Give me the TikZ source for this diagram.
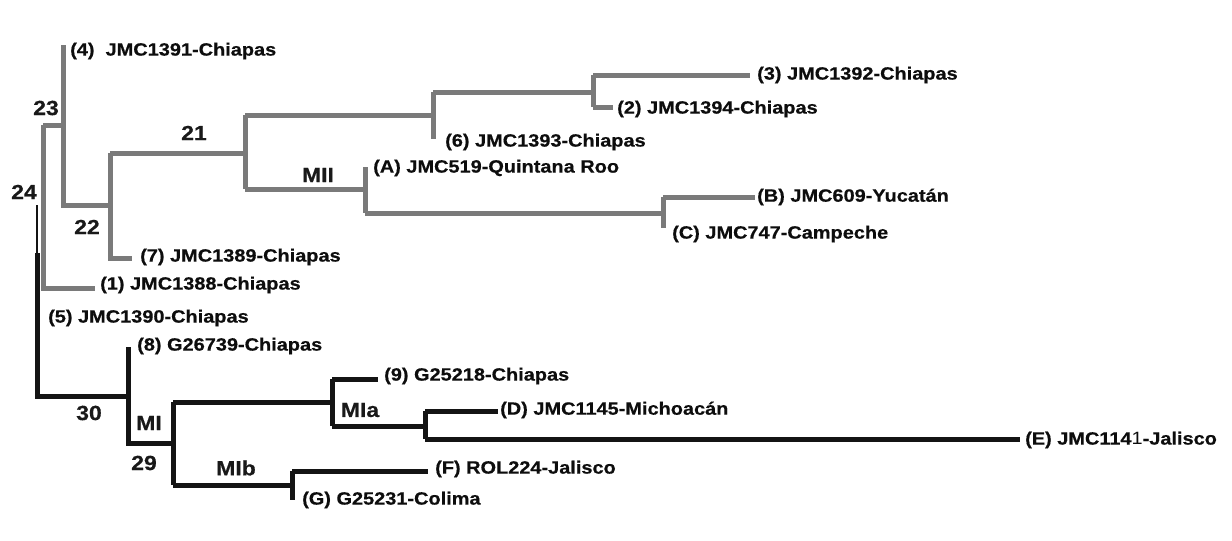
\documentclass[tikz,border=0pt]{standalone}
\usepackage{fontspec}
\newfontfamily\lab[FakeStretch=1.12,BoldFeatures={FakeBold=0.5}]{Liberation Sans}
\begin{document}
\begin{tikzpicture}[x=1pt,y=-1pt,
  gbr/.style={draw=black!52,line width=5pt,line join=miter},
  kbr/.style={draw=black!92,line width=5pt,line join=miter},
  leaf/.style={anchor=west,inner sep=0pt,font=\lab\fontsize{17.8}{19}\selectfont\bfseries,text=black!95},
  num/.style={inner sep=0pt,font=\lab\fontsize{20.5}{22}\selectfont\bfseries,text=black!90}]
\useasboundingbox (0,0) rectangle (1232,541);
% coordinates (gray clade)
\coordinate (n23t) at (63,45);
\coordinate (n23b) at (63,205);
\coordinate (n23m) at (63,125);
\coordinate (n24g) at (43,125);
\coordinate (l1e) at (95,288);
\coordinate (n24gb) at (43,288);
\coordinate (n22b) at (110,205);
\coordinate (n22t) at (110,153);
\coordinate (n22d) at (110,258);
\coordinate (l7e) at (132,258);
\coordinate (n21m) at (245,153);
\coordinate (n21t) at (245,115);
\coordinate (n21b) at (245,189);
\coordinate (n6t) at (433,115);
\coordinate (n6u) at (433,92);
\coordinate (n6d) at (433,139);
\coordinate (n3m) at (593,92);
\coordinate (n3u) at (593,75);
\coordinate (n3d) at (593,107);
\coordinate (l3e) at (750,75);
\coordinate (l2e) at (613,107);
\coordinate (nAm) at (365,189);
\coordinate (nAu) at (365,167);
\coordinate (nAd) at (365,213);
\coordinate (nBm) at (663,213);
\coordinate (nBu) at (663,197);
\coordinate (nBd) at (663,228);
\coordinate (lBe) at (755,197);
% coordinates (black clade)
\coordinate (n24t) at (37,205);
\coordinate (n24k) at (37,253);
\coordinate (n24b) at (37,396);
\coordinate (n30m) at (128,396);
\coordinate (n30t) at (128,347);
\coordinate (n30b) at (128,443);
\coordinate (n29m) at (173,443);
\coordinate (n29t) at (173,402);
\coordinate (n29b) at (173,485);
\coordinate (nMat) at (332,402);
\coordinate (nMau) at (332,379);
\coordinate (nMad) at (332,426);
\coordinate (l9e) at (378,379);
\coordinate (nDm) at (425,426);
\coordinate (nDu) at (425,411);
\coordinate (nDd) at (425,439);
\coordinate (lDe) at (498,411);
\coordinate (lEe) at (1020,439);
\coordinate (nFm) at (292,485);
\coordinate (nFu) at (292,471);
\coordinate (nFd) at (292,500);
\coordinate (lFe) at (428,471);
% black branches
\draw[draw=black!92,line width=2pt] (n24t) -- (n24k);
\draw[kbr] (n24k) -- (n24b) -- (n30m);
\draw[kbr] (n30t) -- (n30b) -- (n29m);
\draw[kbr] (n29t) -- (n29b);
\draw[kbr] (n29t) -- (nMat);
\draw[kbr] (nMau) -- (nMad);
\draw[kbr] (nMau) -- (l9e);
\draw[kbr] (nMad) -- (nDm);
\draw[kbr] (nDu) -- (nDd);
\draw[kbr] (nDu) -- (lDe);
\draw[kbr] (nDd) -- (lEe);
\draw[kbr] (n29b) -- (nFm);
\draw[kbr] (nFu) -- (nFd);
\draw[kbr] (nFu) -- (lFe);
% gray branches
\draw[gbr] (n23t) -- (n23b) -- (n22b);
\draw[gbr] (n24g) -- (n23m);
\draw[gbr] (n24g) -- (n24gb) -- (l1e);
\draw[gbr] (n22t) -- (n22d) -- (l7e);
\draw[gbr] (n22t) -- (n21m);
\draw[gbr] (n21t) -- (n21b);
\draw[gbr] (n21t) -- (n6t);
\draw[gbr] (n6u) -- (n6d);
\draw[gbr] (n6u) -- (n3m);
\draw[gbr] (n3u) -- (n3d);
\draw[gbr] (n3u) -- (l3e);
\draw[gbr] (n3d) -- (l2e);
\draw[gbr] (n21b) -- (nAm);
\draw[gbr] (nAu) -- (nAd);
\draw[gbr] (nAd) -- (nBm);
\draw[gbr] (nBu) -- (nBd);
\draw[gbr] (nBu) -- (lBe);
% leaf labels
\node[leaf] (t4) at (70,51) {(4)\ \ JMC1391-Chiapas};
\node[leaf] (t3) at (757,75) {(3) JMC1392-Chiapas};
\node[leaf] (t2) at (617,109) {(2) JMC1394-Chiapas};
\node[leaf] (t6) at (445,142) {(6) JMC1393-Chiapas};
\node[leaf] (tA) at (373,168) {(A) JMC519-Quintana Roo};
\node[leaf] (tB) at (757,197) {(B) JMC609-Yucatán};
\node[leaf] (tC) at (672,234) {(C) JMC747-Campeche};
\node[leaf] (t7) at (140,257) {(7) JMC1389-Chiapas};
\node[leaf] (t1) at (100,285) {(1) JMC1388-Chiapas};
\node[leaf] (t5) at (48,318) {(5) JMC1390-Chiapas};
\node[leaf] (t8) at (137,346) {(8) G26739-Chiapas};
\node[leaf] (t9) at (384,376) {(9) G25218-Chiapas};
\node[leaf] (tD) at (500,410) {(D) JMC1145-Michoacán};
\node[leaf] (tE) at (1025,440) {(E) JMC114\mdseries 1\bfseries -Jalisco};
\node[leaf] (tF) at (435,469) {(F) ROL224-Jalisco};
\node[leaf] (tG) at (302,500) {(G) G25231-Colima};
% internal labels
\node[num] (b23) at (46,108) {23};
\node[num] (b24) at (24,192) {24};
\node[num] (b22) at (87,227) {22};
\node[num] (b21) at (194,133) {21};
\node[num] (bMII) at (318,175) {MII};
\node[num] (b30) at (89,413) {30};
\node[num] (bMI) at (149,423) {MI};
\node[num] (b29) at (144,463) {29};
\node[num] (bMIa) at (360,410) {MIa};
\node[num] (bMIb) at (236,468) {MIb};
\end{tikzpicture}
\end{document}
